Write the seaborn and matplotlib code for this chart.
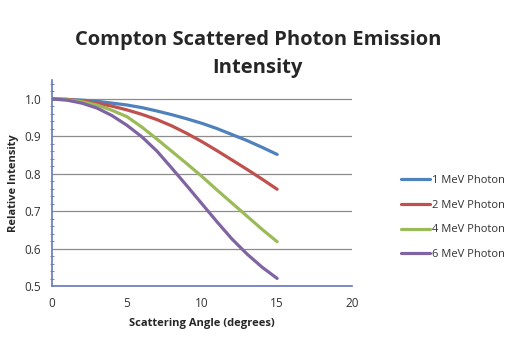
import numpy as np
import pandas as pd
import seaborn as sns
import matplotlib.pyplot as plt
from matplotlib.ticker import MultipleLocator

angle = [0, 1, 2, 3, 4, 5, 6, 7, 8, 9, 10, 11, 12, 13, 14, 15]
mev1 = [1.0, 0.999, 0.997, 0.994, 0.989, 0.984, 0.977, 0.968, 0.958, 0.947,
        0.935, 0.921, 0.905, 0.889, 0.871, 0.852]
mev2 = [1.0, 0.999, 0.995, 0.989, 0.981, 0.971, 0.959, 0.945, 0.928, 0.908,
        0.886, 0.862, 0.837, 0.812, 0.786, 0.759]
mev4 = [1.0, 0.998, 0.993, 0.984, 0.970, 0.953, 0.925, 0.893, 0.860, 0.827,
        0.793, 0.757, 0.722, 0.687, 0.652, 0.619]
mev6 = [1.0, 0.997, 0.989, 0.976, 0.956, 0.930, 0.899, 0.861, 0.815, 0.768,
        0.720, 0.672, 0.626, 0.586, 0.551, 0.521]
series_names = ['1 MeV Photon', '2 MeV Photon', '4 MeV Photon', '6 MeV Photon']
colors = ['#4F81BD', '#C0504D', '#9BBB59', '#8064A2']

df = pd.concat([
    pd.DataFrame({'angle': angle, 'intensity': vals, 'series': name})
    for name, vals in zip(series_names, [mev1, mev2, mev4, mev6])
])

sns.set_style('white')
plt.rcParams['font.family'] = ['Open Sans', 'DejaVu Sans']

fig = plt.figure(figsize=(5.21, 3.64), dpi=100)
ax = fig.add_axes([0.0992, 0.2135, 0.5770, 0.566])

sns.lineplot(data=df, x='angle', y='intensity', hue='series',
             palette=colors, linewidth=2.3, ax=ax, legend=False)

ax.set_xlim(0, 20)
ax.set_ylim(0.5, 1.05)
ax.set_xticks([0, 5, 10, 15, 20])
ax.set_yticks([0.5, 0.6, 0.7, 0.8, 0.9, 1.0])
ax.set_yticklabels(['0.5', '0.6', '0.7', '0.8', '0.9', '1.0'])
ax.yaxis.set_minor_locator(MultipleLocator(0.02))
ax.grid(axis='y', which='major', color='#8c8c8c', linewidth=0.9)
ax.set_axisbelow(True)

axis_color = '#6677bb'
for side in ['top', 'right']:
    ax.spines[side].set_visible(False)
for side in ['left', 'bottom']:
    ax.spines[side].set_color(axis_color)
    ax.spines[side].set_linewidth(1.2)
ax.tick_params(axis='both', which='major', direction='out', length=4,
               color=axis_color, labelsize=8.5, labelcolor='#333333')
ax.tick_params(axis='y', which='minor', direction='inout', length=3,
               color=axis_color, left=True)

ax.set_xlabel('Scattering Angle (degrees)', fontsize=8, fontweight='bold',
              labelpad=6)
ax.set_ylabel('Relative Intensity', fontsize=8, fontweight='bold', labelpad=4)

fig.text(0.495, 0.852, 'Compton Scattered Photon Emission\nIntensity',
         ha='center', va='center', fontsize=14.5, fontweight='bold',
         linespacing=1.5)

handles = [plt.Line2D([], [], color=c, linewidth=2.3) for c in colors]
fig.legend(handles, series_names, loc='center left',
           bbox_to_anchor=(0.75, 0.4025), frameon=False, fontsize=8,
           handlelength=2.6, handletextpad=0.2, labelspacing=1.25,
           labelcolor='#333333')

fig.savefig('out.png', dpi=100)
